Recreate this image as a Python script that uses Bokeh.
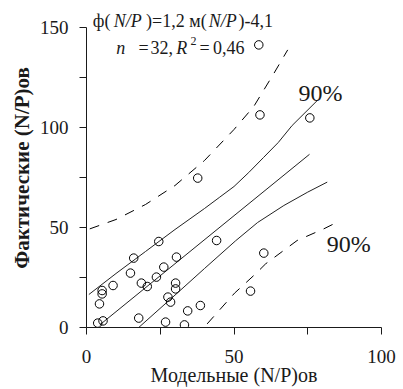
from bokeh.plotting import figure
from bokeh.models import Range1d, Label, FixedTicker
from bokeh.embed import file_html
from bokeh.resources import INLINE

# ---- data ----
model_x = [24.5, 16.0, 44.1, 30.5, 14.9, 26.2, 23.7, 9.0, 18.6, 20.6,
           5.3, 5.3, 30.2, 30.2, 27.6, 28.5, 4.4, 38.6, 34.3, 17.7,
           3.8, 5.6, 26.8, 33.2, 37.7, 58.4, 58.8, 75.7, 60.1, 55.6]
actual_y = [43.0, 34.7, 43.5, 35.2, 27.2, 30.2, 25.2, 21.0, 22.2, 20.5,
            18.5, 16.8, 22.2, 19.3, 15.2, 12.7, 11.8, 11.0, 8.3, 4.7,
            2.2, 3.3, 2.7, 1.3, 74.7, 141.3, 106.3, 104.8, 37.2, 18.2]

reg_x = [4.5, 75.6]
reg_y = [1.3, 86.6]

conf_up_x = [0.8, 10, 20, 30, 40, 45, 50, 55, 60, 65, 69.7, 78.3]
conf_up_y = [16.5, 27.0, 38.0, 49.0, 59.5, 65.0, 70.5, 77.5, 85.0, 92.5, 101.0, 113.6]

conf_lo_x = [17.7, 30, 40, 50.5, 58, 66.9, 75, 81.6]
conf_lo_y = [0.0, 16.2, 29.5, 43.3, 52.5, 61.0, 67.7, 72.7]

pred_up_x = [1.1, 10, 20, 30, 40, 50, 56.7, 63.5, 68.2]
pred_up_y = [49.3, 54.0, 61.5, 71.0, 83.5, 99.0, 110.5, 127.0, 138.8]

pred_lo_x = [40.9, 50.2, 57.3, 60.7, 71.4, 80.4, 83.8]
pred_lo_y = [1.8, 17.2, 26.8, 31.8, 43.5, 49.3, 51.8]

x_major = [0, 50, 100]
x_minor = [25, 75]
y_major = [0, 50, 100, 150]
y_minor = [25, 75, 125]

FONT = "Liberation Serif"
INK = "#1a1a1a"

p = figure(width=403, height=389, output_backend="svg", toolbar_location=None,
           x_range=Range1d(0, 100), y_range=Range1d(0, 159.5),
           min_border_left=86, min_border_right=22,
           min_border_top=8, min_border_bottom=62)
p.grid.visible = False
p.outline_line_color = None
p.background_fill_color = "white"
p.border_fill_color = "white"

p.xaxis.ticker = FixedTicker(ticks=x_major, minor_ticks=x_minor)
p.yaxis.ticker = FixedTicker(ticks=y_major, minor_ticks=y_minor)
p.xaxis.bounds = (0, 100)
p.yaxis.bounds = (0, 150)
for ax in (p.xaxis, p.yaxis):
    ax.axis_line_color = INK
    ax.axis_line_width = 1
    ax.major_tick_line_color = INK
    ax.minor_tick_line_color = INK
    ax.major_tick_in = 0
    ax.major_tick_out = 7
    ax.minor_tick_in = 0
    ax.minor_tick_out = 7
    ax.major_label_text_font = FONT
    ax.major_label_text_font_size = "19px"
    ax.major_label_text_color = INK
    ax.axis_label_text_font = FONT
    ax.axis_label_text_color = INK
p.xaxis.major_label_standoff = 15
p.yaxis.major_label_standoff = 11
p.xaxis.axis_label = "Модельные (N/P)ов"
p.xaxis.axis_label_text_font_size = "20px"
p.xaxis.axis_label_text_font_style = "normal"
p.xaxis.axis_label_standoff = -2
p.yaxis.axis_label = "Фактические (N/P)ов"
p.yaxis.axis_label_text_font_size = "21px"
p.yaxis.axis_label_text_font_style = "bold"
p.yaxis.axis_label_standoff = 3

# bands and regression
p.line(pred_up_x, pred_up_y, line_color="black", line_width=1, line_dash="10 9")
p.line(pred_lo_x, pred_lo_y, line_color="black", line_width=1, line_dash="10 9")
p.line(conf_up_x, conf_up_y, line_color="#222222", line_width=1)
p.line(conf_lo_x, conf_lo_y, line_color="#222222", line_width=1)
p.line(reg_x, reg_y, line_color="#222222", line_width=1)

p.scatter(model_x, actual_y, marker="circle", size=8.5, fill_color=None,
          line_color="black", line_width=1)

def lab(x, y, t, size="18px", style="normal"):
    p.add_layout(Label(x=x, y=y, text=t, text_font=FONT, text_font_size=size,
                       text_font_style=style, text_color=INK,
                       text_baseline="middle", text_align="left"))

# equation line 1
L1 = 153.3
lab(2.14, L1, "ф(")
lab(9.25, L1, "N/P", style="italic")
lab(20.2, L1, ")=1,2 м(")
lab(41.4, L1, "N/P", style="italic")
lab(51.5, L1, ")-4,1")
# equation line 2
L2 = 139.8
lab(10.07, L2, "n", style="italic")
lab(17.6, L2, "=")
lab(21.7, L2, "32,")
lab(30.41, L2, "R", style="italic")
lab(35.25, 143.2, "2", size="12px")
lab(38.3, L2, "=")
lab(42.9, L2, "0,46")

# 90% labels
lab(71.9, 117.5, "90%", size="24px")
lab(81.4, 42.0, "90%", size="24px")

open("out.html", "w").write(file_html(p, INLINE))
